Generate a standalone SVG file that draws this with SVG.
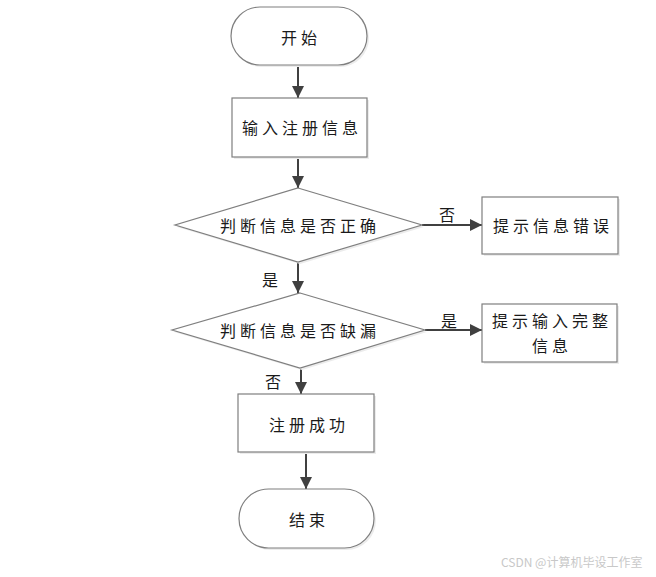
<svg xmlns="http://www.w3.org/2000/svg" width="656" height="577" viewBox="0 0 656 577">
<style>
.shape{fill:#ffffff;stroke:#7f7f7f;stroke-width:1.2}
.shadow{fill:#ececec;stroke:none}
.t{font-family:"Noto Sans CJK SC","Liberation Sans",sans-serif;font-size:16px;fill:#1a1a1a;text-anchor:middle;dominant-baseline:central;letter-spacing:4px}
.lbl{font-family:"Noto Sans CJK SC","Liberation Sans",sans-serif;font-size:16px;fill:#1a1a1a;text-anchor:middle;dominant-baseline:central}
.wm{font-family:"Noto Sans CJK SC","Liberation Sans",sans-serif;font-size:12px;fill:#c8c8c8}
</style>
<defs>
<marker id="arr2" viewBox="0 0 12 12" refX="12" refY="6" markerWidth="12" markerHeight="12" markerUnits="userSpaceOnUse" orient="auto">
<path d="M0,0 L12,6 L0,12 z" fill="#404040"/>
</marker>
</defs>
<rect width="656" height="577" fill="#ffffff"/>
<g id="connectors" stroke="#404040" stroke-width="2">
<path d="M298,65 V98" fill="none" marker-end="url(#arr2)"/>
<path d="M298,157 V188" fill="none" marker-end="url(#arr2)"/>
<path d="M422,225 H482" fill="none" marker-end="url(#arr2)"/>
<path d="M298,262 V293" fill="none" marker-end="url(#arr2)"/>
<path d="M425,330 H482" fill="none" marker-end="url(#arr2)"/>
<path d="M301,368 V394" fill="none" marker-end="url(#arr2)"/>
<path d="M306,452 V489" fill="none" marker-end="url(#arr2)"/>
</g>
<g id="edge-labels">
<text class="lbl" x="447" y="214">否</text>
<text class="lbl" x="270" y="279">是</text>
<text class="lbl" x="449" y="320">是</text>
<text class="lbl" x="273" y="381">否</text>
</g>
<g id="start">
<rect class="shadow" x="233" y="9" width="136" height="58" rx="29"/>
<rect class="shape" x="231" y="7" width="136" height="58" rx="29"/>
<text class="t" x="301" y="37">开始</text>
</g>
<g id="input">
<rect class="shadow" x="234" y="100" width="135" height="59"/>
<rect class="shape" x="232" y="98" width="135" height="59"/>
<text class="t" x="302" y="127">输入注册信息</text>
</g>
<g id="check-correct">
<polygon class="shadow" points="300,190 424,227 300,264 177,227"/>
<polygon class="shape" points="298,188 422,225 298,262 175,225"/>
<text class="t" x="300" y="225">判断信息是否正确</text>
</g>
<g id="error">
<rect class="shadow" x="484" y="199" width="136" height="57"/>
<rect class="shape" x="482" y="197" width="136" height="57"/>
<text class="t" x="553" y="225">提示信息错误</text>
</g>
<g id="check-missing">
<polygon class="shadow" points="302,295 427,332 302,370 174,332"/>
<polygon class="shape" points="300,293 425,330 300,368 172,330"/>
<text class="t" x="300" y="330">判断信息是否缺漏</text>
</g>
<g id="complete">
<rect class="shadow" x="484" y="306" width="135" height="58"/>
<rect class="shape" x="482" y="304" width="135" height="58"/>
<text class="t" x="552" y="320">提示输入完整</text>
<text class="t" x="552" y="345">信息</text>
</g>
<g id="success">
<rect class="shadow" x="240" y="396" width="136" height="58"/>
<rect class="shape" x="238" y="394" width="136" height="58"/>
<text class="t" x="309" y="424">注册成功</text>
</g>
<g id="end">
<rect class="shadow" x="241" y="491" width="135" height="59" rx="29.5"/>
<rect class="shape" x="239" y="489" width="135" height="59" rx="29.5"/>
<text class="t" x="309" y="519">结束</text>
</g>
<text class="wm" x="501" y="567">CSDN @计算机毕设工作室</text>
</svg>
